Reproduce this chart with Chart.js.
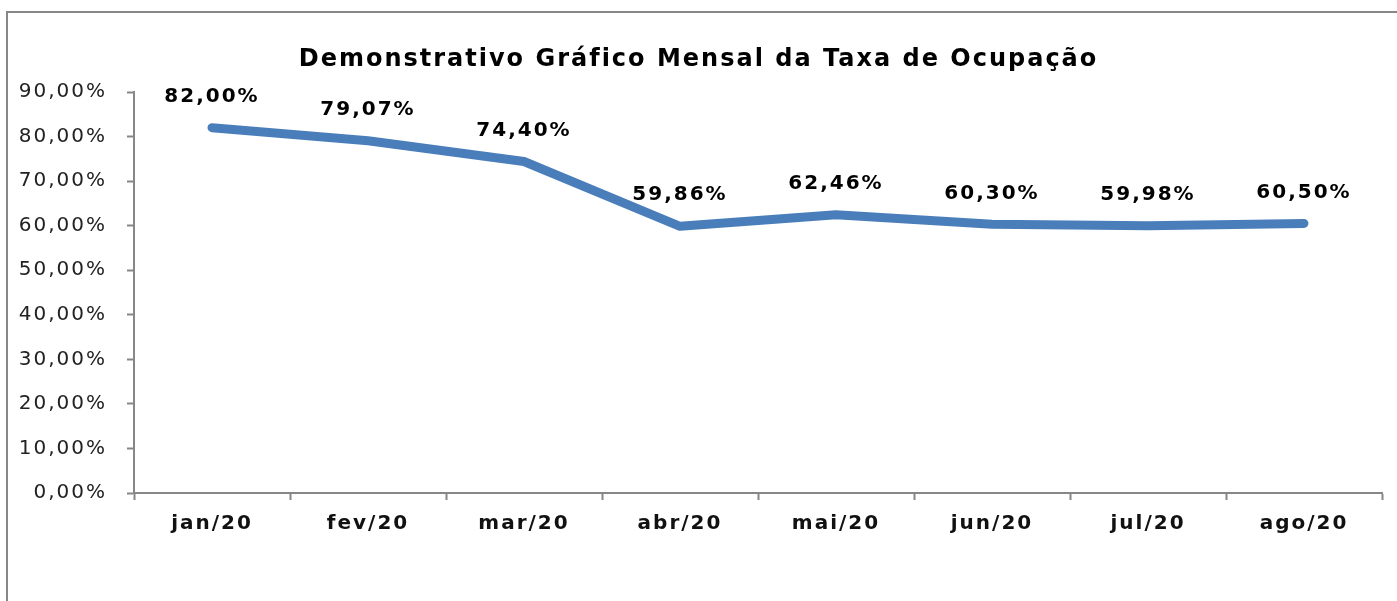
<!DOCTYPE html>
<html>
<head>
<meta charset="utf-8">
<script src="https://cdn.jsdelivr.net/npm/chart.js@4/dist/chart.umd.min.js"></script>
<style>
  html, body { margin: 0; padding: 0; background: #fff; }
  #chart { display: block; }
</style>
</head>
<body>
<canvas id="chart" width="1397" height="601"></canvas>
<script>
const meses = ['jan/20', 'fev/20', 'mar/20', 'abr/20', 'mai/20', 'jun/20', 'jul/20', 'ago/20'];
const taxaOcupacao = [82.00, 79.07, 74.40, 59.86, 62.46, 60.30, 59.98, 60.50];
const yTicks = [0, 10, 20, 30, 40, 50, 60, 70, 80, 90];
const titulo = 'Demonstrativo Gráfico Mensal da Taxa de Ocupação';

const cinza = '#878787';
const fmt = v => v.toFixed(2).replace('.', ',') + '%';

// moldura, titulo e rotulos dos pontos
const extras = {
    id: 'extras',
    beforeDraw(chart) {
        const ctx = chart.ctx;
        ctx.letterSpacing = '2px';
        ctx.save();
        ctx.strokeStyle = cinza;
        ctx.lineWidth = 2;
        ctx.beginPath();
        ctx.moveTo(7, 601);
        ctx.lineTo(7, 12);
        ctx.lineTo(1397, 12);
        ctx.stroke();
        ctx.restore();
    },
    afterDatasetsDraw(chart) {
        const ctx = chart.ctx;
        ctx.save();
        ctx.fillStyle = '#000';
        ctx.textAlign = 'center';
        ctx.textBaseline = 'middle';
        ctx.font = 'bold 24px "DejaVu Sans"';
        ctx.fillText(titulo, chart.width / 2, 60);
        ctx.font = 'bold 20px "DejaVu Sans"';
        chart.getDatasetMeta(0).data.forEach((pt, i) => {
            ctx.fillText(fmt(taxaOcupacao[i]), pt.x, pt.y - 31);
        });
        ctx.restore();
    }
};

const chart = new Chart(document.getElementById('chart'), {
    type: 'line',
    data: {
        labels: meses,
        datasets: [{
            data: taxaOcupacao,
            borderColor: '#4a7ebb',
            borderWidth: 9,
            borderCapStyle: 'round',
            borderJoinStyle: 'round',
            pointRadius: 0,
            tension: 0,
            fill: false
        }]
    },
    options: {
        responsive: false,
        animation: false,
        layout: { padding: { top: 92, right: 15, left: 0, bottom: 0 } },
        plugins: {
            legend: { display: false },
            title: { display: false },
            tooltip: { enabled: false }
        },
        scales: {
            x: {
                offset: true,
                afterFit(scale) { scale.height = 108; },
                grid: {
                    offset: true,
                    drawOnChartArea: false,
                    drawTicks: true,
                    tickLength: 7,
                    tickWidth: 2,
                    color: cinza
                },
                border: { color: cinza, width: 2 },
                ticks: {
                    color: '#111',
                    padding: 12,
                    font: { family: 'DejaVu Sans', size: 20, weight: 'bold' }
                }
            },
            y: {
                min: 0,
                max: 90,
                afterFit(scale) { scale.width = 134; },
                afterBuildTicks(scale) { scale.ticks = yTicks.map(v => ({ value: v })); },
                grid: {
                    drawOnChartArea: false,
                    drawTicks: true,
                    tickLength: 7,
                    tickWidth: 2,
                    color: cinza
                },
                border: { color: cinza, width: 2 },
                ticks: {
                    color: '#222',
                    padding: 20,
                    font: { family: 'DejaVu Sans', size: 20 },
                    callback: v => fmt(v)
                }
            }
        }
    },
    plugins: [extras]
});
</script>
</body>
</html>
